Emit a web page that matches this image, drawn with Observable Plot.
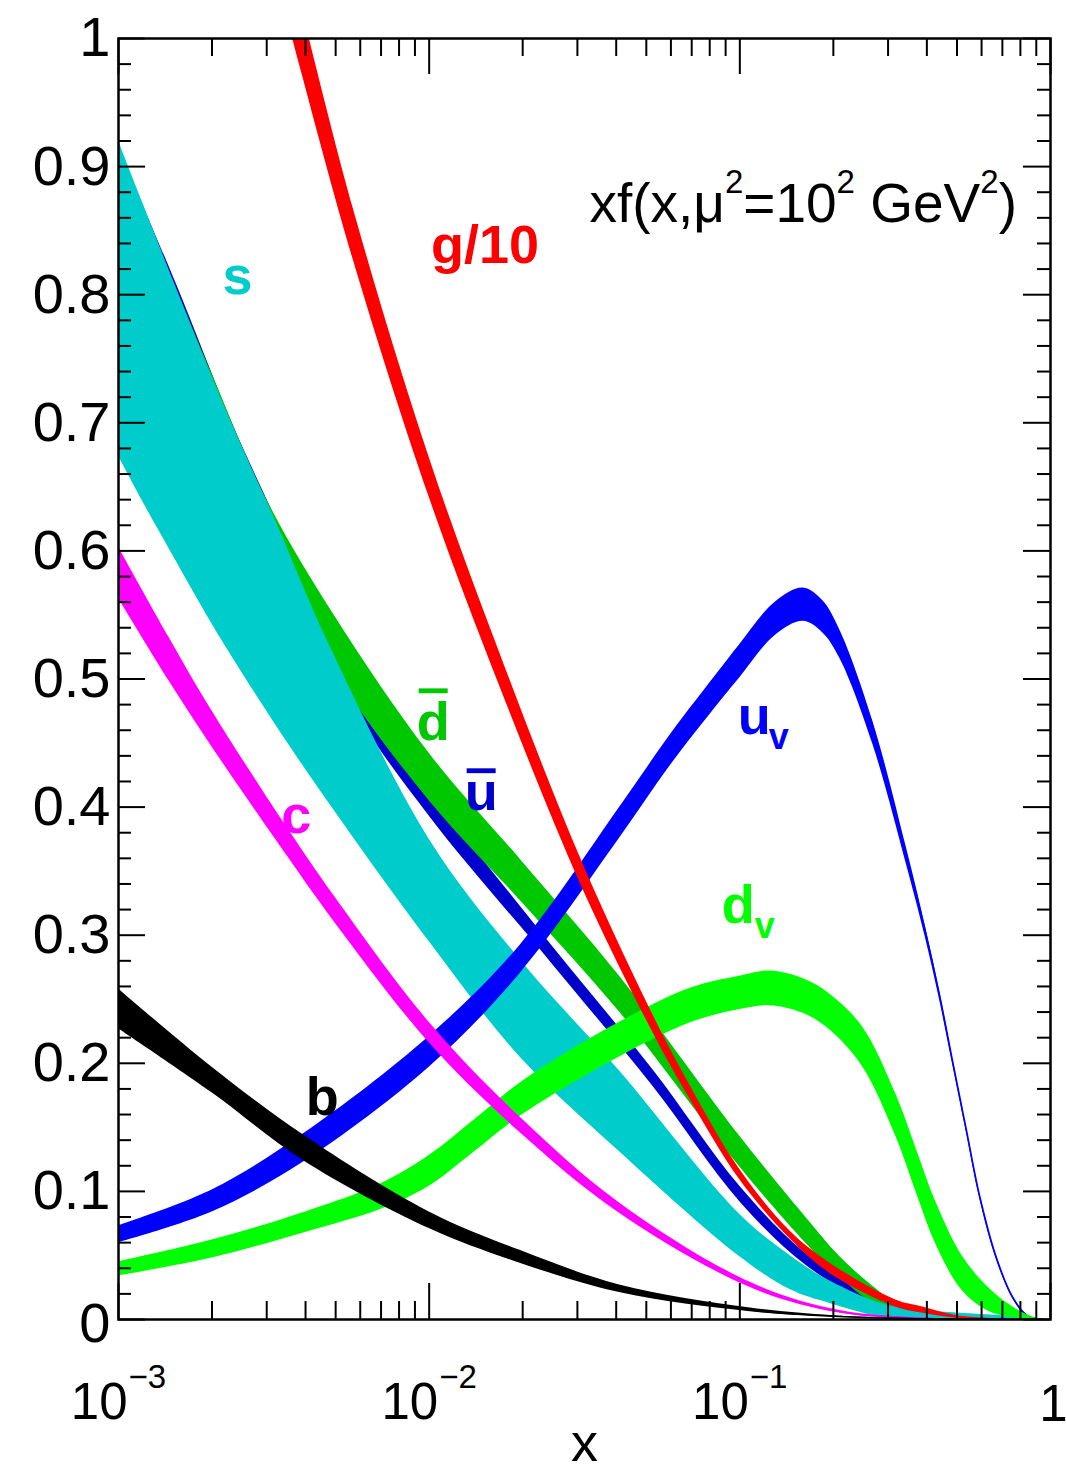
<!DOCTYPE html>
<html>
<head>
<meta charset="utf-8">
<script src="https://cdn.jsdelivr.net/npm/d3@7"></script>
<script src="https://cdn.jsdelivr.net/npm/@observablehq/plot@0.6"></script>
<style>
  html, body { margin: 0; padding: 0; background: #ffffff; }
  #chart { width: 1066px; height: 1472px; }
</style>
</head>
<body>
<div id="chart"></div>
<script>
// ---------------- data ----------------
// g/10
const gX  = [0.0035, 0.00387, 0.0057, 0.01, 0.0169, 0.0306, 0.0525, 0.0676, 0.1, 0.145, 0.195, 0.319, 0.385, 0.5, 0.7, 0.9];
const gLo = [1.015, 0.975, 0.827, 0.642, 0.494, 0.341, 0.224, 0.176, 0.109, 0.063, 0.036, 0.0095, 0.005, 0.001, 0.0001, 0];
const gHi = [1.065, 1.025, 0.867, 0.673, 0.520, 0.361, 0.238, 0.187, 0.117, 0.069, 0.044, 0.015, 0.010, 0.003, 0.0006, 0];
// u valence
const uvX  = [0.001, 0.002, 0.00394, 0.01, 0.0196, 0.0411, 0.06, 0.0863, 0.1, 0.13, 0.16, 0.185, 0.21, 0.268, 0.344, 0.394, 0.44, 0.485, 0.536, 0.592, 0.669, 0.757, 0.85, 0.95];
const uvLo = [0.060, 0.084, 0.123, 0.197, 0.270, 0.376, 0.433, 0.482, 0.501, 0.534, 0.545, 0.536, 0.516, 0.449, 0.355, 0.300, 0.249, 0.198, 0.146, 0.094, 0.047, 0.016, 0.001, 0];
const uvHi = [0.073, 0.101, 0.145, 0.221, 0.292, 0.400, 0.457, 0.507, 0.527, 0.560, 0.571, 0.561, 0.538, 0.467, 0.368, 0.309, 0.256, 0.203, 0.150, 0.098, 0.050, 0.018, 0.003, 0];
// d valence
const dvX  = [0.001, 0.002, 0.004, 0.007, 0.01, 0.014, 0.02, 0.041, 0.07, 0.1, 0.125, 0.16, 0.195, 0.249, 0.319, 0.37, 0.429, 0.522, 0.637, 0.777, 0.9, 0.95];
const dvLo = [0.034, 0.048, 0.068, 0.086, 0.104, 0.131, 0.160, 0.205, 0.232, 0.242, 0.245, 0.239, 0.226, 0.197, 0.142, 0.099, 0.058, 0.022, 0.006, 0.001, 0, 0];
const dvHi = [0.045, 0.062, 0.084, 0.106, 0.128, 0.156, 0.186, 0.232, 0.259, 0.268, 0.272, 0.266, 0.254, 0.228, 0.175, 0.133, 0.091, 0.049, 0.024, 0.008, 0.001, 0];
// u-bar
const ubX  = [0.001, 0.00155, 0.00234, 0.00325, 0.0053, 0.01, 0.025, 0.0525, 0.1, 0.164, 0.268, 0.4, 0.6, 0.9];
const ubLo = [0.900, 0.792, 0.686, 0.607, 0.490, 0.393, 0.277, 0.182, 0.092, 0.042, 0.012, 0.003, 0.0005, 0];
const ubHi = [0.915, 0.806, 0.698, 0.622, 0.505, 0.413, 0.291, 0.195, 0.104, 0.051, 0.018, 0.005, 0.001, 0];
// d-bar
const dbX  = [0.001, 0.002, 0.003, 0.005, 0.01, 0.02, 0.041, 0.1, 0.164, 0.21, 0.268, 0.344, 0.5, 0.9];
const dbLo = [0.900, 0.725, 0.615, 0.505, 0.405, 0.325, 0.240, 0.119, 0.059, 0.033, 0.013, 0.004, 0.0005, 0];
const dbHi = [0.915, 0.738, 0.640, 0.548, 0.442, 0.357, 0.268, 0.143, 0.079, 0.049, 0.026, 0.008, 0.0015, 0];
// s
const sX  = [0.001, 0.0012, 0.00155, 0.002, 0.00241, 0.00325, 0.0047, 0.01, 0.0196, 0.041, 0.1, 0.145, 0.195, 0.30, 0.5, 0.7, 0.9];
const sLo = [0.674, 0.638, 0.590, 0.543, 0.511, 0.462, 0.405, 0.295, 0.205, 0.131, 0.049, 0.0234, 0.0125, 0.001, 0.0008, 0.0003, 0];
const sHi = [0.920, 0.871, 0.8025, 0.736, 0.690, 0.620, 0.530, 0.375, 0.281, 0.194, 0.082, 0.050, 0.030, 0.011, 0.005, 0.003, 0.001];
// c
const cX  = [0.001, 0.00145, 0.002, 0.00349, 0.005, 0.01, 0.0196, 0.041, 0.108, 0.21, 0.4, 0.6, 0.9];
const cLo = [0.563, 0.499, 0.447, 0.362, 0.309, 0.216, 0.146, 0.083, 0.025, 0.005, 0.0005, 0.0001, 0];
const cHi = [0.603, 0.533, 0.475, 0.384, 0.329, 0.232, 0.158, 0.091, 0.029, 0.007, 0.001, 0.0002, 0];
// b
const bX  = [0.001, 0.002, 0.00394, 0.01, 0.0196, 0.041, 0.108, 0.2, 0.4, 0.7];
const bLo = [0.227, 0.177, 0.124, 0.071, 0.044, 0.021, 0.006, 0.002, 0.0003, 0];
const bHi = [0.258, 0.197, 0.144, 0.084, 0.054, 0.027, 0.009, 0.003, 0.0006, 0];

// ticks
const xDecades   = [0.001, 0.01, 0.1, 1];
const xDecadeExp = ["−3", "−2", "−1"];
const xMinor     = [0.001, 0.01, 0.1].flatMap(d => [2, 3, 4, 5, 6, 7, 8, 9].map(k => k * d));
const yMajor     = [0, 0.1, 0.2, 0.3, 0.4, 0.5, 0.6, 0.7, 0.8, 0.9, 1];
const yMinor     = [0.02, 0.04, 0.06, 0.08, 0.12, 0.14, 0.16, 0.18, 0.22, 0.24, 0.26, 0.28, 0.32, 0.34, 0.36, 0.38,
                    0.42, 0.44, 0.46, 0.48, 0.52, 0.54, 0.56, 0.58, 0.62, 0.64, 0.66, 0.68, 0.72, 0.74, 0.76, 0.78,
                    0.82, 0.84, 0.86, 0.88, 0.92, 0.94, 0.96, 0.98];

// curve labels (anchor x, baseline y in data units)
const labelNames = ["g/10", "s", "d", "u", "c", "b", "u", "d"];
const labelX     = [0.01514, 0.002414, 0.0103, 0.0147, 0.003736, 0.004529, 0.0985, 0.0875];
const labelY     = [0.8244, 0.8009, 0.4520, 0.3974, 0.3794, 0.1593, 0.4567, 0.3099];
const labelKeys  = ["g", "s", "dbar", "ubar", "c", "b", "uv", "dv"];

// ---------------- styles ----------------
const COLORS = {
  g: "#ff0000", uv: "#0000ff", dv: "#00ff00", ubar: "#0000cc",
  dbar: "#00c800", s: "#00cccc", c: "#ff00ff", b: "#000000"
};
const FONT = "'Liberation Sans', Arial, Helvetica, sans-serif";
const W = 1066, H = 1472, ML = 118, MR = 16, MT = 38, MB = 153;
const innerW = W - ML - MR, innerH = H - MT - MB;
const CURVE = "catmull-rom";

const series = [
  ["ubar", ubX, ubLo, ubHi],
  ["dbar", dbX, dbLo, dbHi],
  ["s", sX, sLo, sHi],
  ["uv", uvX, uvLo, uvHi],
  ["dv", dvX, dvLo, dvHi],
  ["g", gX, gLo, gHi],
  ["c", cX, cLo, cHi],
  ["b", bX, bLo, bHi]
];

const bandMarks = series.flatMap(([key, xs, lo, hi]) => {
  const rows = xs.map((x, i) => ({x, lo: lo[i], hi: hi[i], mid: (lo[i] + hi[i]) / 2}));
  return [
    Plot.areaY(rows, {x: "x", y1: "lo", y2: "hi", fill: COLORS[key], curve: CURVE, clip: true}),
    Plot.line(rows, {x: "x", y: "mid", stroke: COLORS[key], strokeWidth: 1.6, curve: CURVE, clip: true})
  ];
});

const tickStyle = {stroke: "black", strokeWidth: 2};
const tickMarks = [
  Plot.ruleX(xDecades, {...tickStyle, insetTop: innerH - 36}),
  Plot.ruleX(xDecades, {...tickStyle, insetBottom: innerH - 36}),
  Plot.ruleX(xMinor, {...tickStyle, insetTop: innerH - 18}),
  Plot.ruleX(xMinor, {...tickStyle, insetBottom: innerH - 18}),
  Plot.ruleY(yMajor, {...tickStyle, insetRight: innerW - 27}),
  Plot.ruleY(yMajor, {...tickStyle, insetLeft: innerW - 27}),
  Plot.ruleY(yMinor, {...tickStyle, insetRight: innerW - 13}),
  Plot.ruleY(yMinor, {...tickStyle, insetLeft: innerW - 13})
];

const axisText = [
  Plot.text(yMajor.filter(v => v > 0), {y: d => d, frameAnchor: "left", text: d => String(+d.toFixed(1)),
    textAnchor: "end", dx: -8, fontSize: 56, fontFamily: FONT, fill: "black"}),
  Plot.text([0], {y: d => d, frameAnchor: "left", text: d => "0",
    textAnchor: "end", dx: -8, dy: 5, fontSize: 56, fontFamily: FONT, fill: "black"}),
  Plot.text(xDecades.slice(0, 3), {x: d => d, frameAnchor: "bottom", text: () => "10",
    textAnchor: "end", lineAnchor: "bottom", dx: 9, dy: 99, fontSize: 51, fontFamily: FONT, fill: "black"}),
  Plot.text(xDecades.slice(0, 3), {x: d => d, frameAnchor: "bottom", text: (d, i) => xDecadeExp[i],
    textAnchor: "start", lineAnchor: "bottom", dx: 10, dy: 68, fontSize: 33, fontFamily: FONT, fill: "black"}),
  Plot.text([1], {x: d => d, frameAnchor: "bottom", text: () => "1",
    textAnchor: "middle", lineAnchor: "bottom", dx: 3, dy: 101, fontSize: 51, fontFamily: FONT, fill: "black"}),
  Plot.text(["x"], {frameAnchor: "bottom", text: d => d,
    textAnchor: "middle", lineAnchor: "bottom", dy: 141, fontSize: 54, fontFamily: FONT, fill: "black"})
];

const labelMarks = labelNames.flatMap((name, i) => {
  const key = labelKeys[i];
  const sub = key === "uv" || key === "dv";
  const bar = key === "ubar" || key === "dbar";
  const marks = [
    Plot.text([i], {x: j => labelX[j], y: j => labelY[j], text: j => labelNames[j],
      fill: COLORS[key], fontSize: 54, fontWeight: "bold", fontFamily: FONT,
      textAnchor: sub ? "start" : "middle", lineAnchor: "bottom",
      ...(bar ? {ariaLabel: () => "overbar-" + key} : {})})
  ];
  if (sub) {
    marks.push(Plot.text([i], {x: j => labelX[j], y: j => labelY[j], text: () => "v",
      fill: COLORS[key], fontSize: 36, fontWeight: "bold", fontFamily: FONT,
      textAnchor: "start", lineAnchor: "bottom", dx: key === "uv" ? 31 : 33, dy: 15}));
  }
  return marks;
});

const chart = Plot.plot({
  width: W, height: H,
  marginLeft: ML, marginRight: MR, marginTop: MT, marginBottom: MB,
  style: {background: "white", fontFamily: FONT, overflow: "visible"},
  x: {type: "log", domain: [0.001, 1], axis: null},
  y: {domain: [0, 1], axis: null},
  marks: [
    ...bandMarks,
    ...tickMarks,
    Plot.frame({stroke: "black", strokeWidth: 2.5}),
    ...axisText,
    ...labelMarks
  ]
});
document.getElementById("chart").append(chart);

// overbars on the anti-quark labels
d3.select(chart).selectAll("text").each(function () {
  const al = this.getAttribute("aria-label");
  if (!al || !al.startsWith("overbar")) return;
  const b = this.getBBox();
  const fs = 54;
  const top = al === "overbar-dbar" ? -0.965 * fs : -0.78 * fs;
  d3.select(this.parentNode).append("rect")
    .attr("transform", this.getAttribute("transform"))
    .attr("x", b.x + 2).attr("width", Math.max(0, b.width - 4))
    .attr("y", top).attr("height", 0.09 * fs);
});

// title with superscripts
const title = d3.select(chart).append("text")
  .attr("x", ML + innerW - 33).attr("y", 222)
  .attr("text-anchor", "end").attr("font-family", FONT).attr("font-size", 55).attr("fill", "black");
title.append("tspan").text("xf(x,μ");
title.append("tspan").attr("dy", -29).attr("font-size", 33).text("2");
title.append("tspan").attr("dy", 29).text("=10");
title.append("tspan").attr("dy", -29).attr("font-size", 33).text("2");
title.append("tspan").attr("dy", 29).text(" GeV");
title.append("tspan").attr("dy", -29).attr("font-size", 33).text("2");
title.append("tspan").attr("dy", 29).text(")");
</script>
</body>
</html>
